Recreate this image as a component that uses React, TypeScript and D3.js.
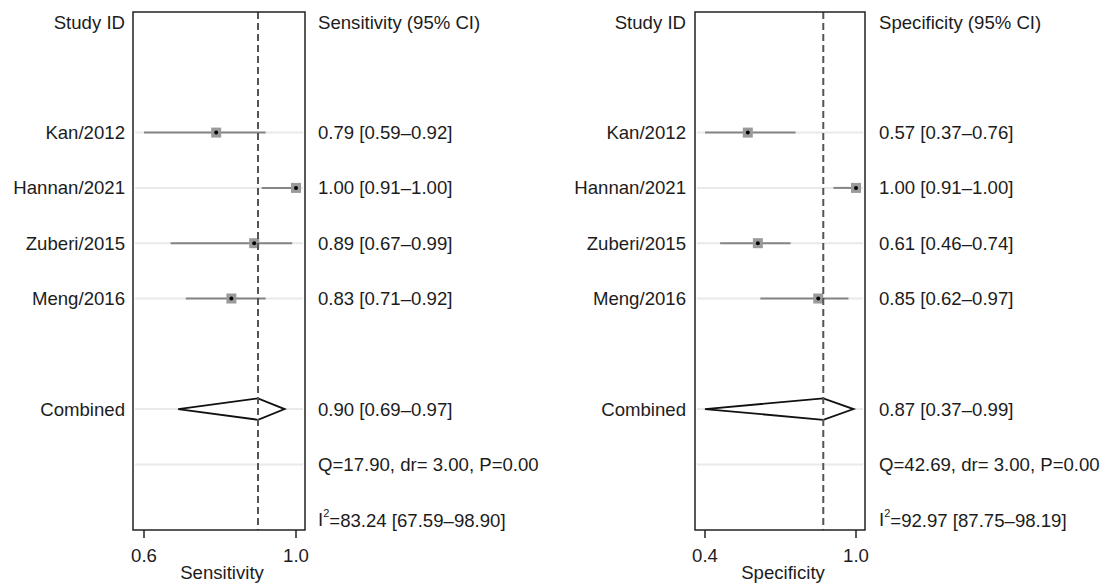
import React from "react";
import * as d3 from "d3";

const studies = ["Kan/2012", "Hannan/2021", "Zuberi/2015", "Meng/2016"];
const sensEst = [0.79, 1.0, 0.89, 0.83];
const sensLo = [0.59, 0.91, 0.67, 0.71];
const sensHi = [0.92, 1.0, 0.99, 0.92];
const specEst = [0.57, 1.0, 0.61, 0.85];
const specLo = [0.37, 0.91, 0.46, 0.62];
const specHi = [0.76, 1.0, 0.74, 0.97];
const sensPooled = [0.9, 0.69, 0.97];
const specPooled = [0.87, 0.37, 0.99];
const sensStats = { q: "Q=17.90, dr= 3.00, P=0.00", i2: "=83.24 [67.59\u201398.90]" };
const specStats = { q: "Q=42.69, dr= 3.00, P=0.00", i2: "=92.97 [87.75\u201398.19]" };
const sensTicks = [0.6, 1.0];
const specTicks = [0.4, 1.0];

const W = 1102;
const H = 583;
const FONT = "'Liberation Sans', Arial, Helvetica, sans-serif";
const FS = 18.6;
const TXT = "#1c1c1c";

const rowY = d3.scaleLinear().domain([0, 9]).range([22, 519.7]);
const fmt = d3.format(".2f");

type PanelProps = {
  labelX: number;
  box: [number, number];
  ticks: number[];
  tickRange: [number, number];
  textX: number;
  header: string;
  axisTitle: string;
  est: number[];
  lo: number[];
  hi: number[];
  pooled: number[];
  stats: { q: string; i2: string };
};

function Panel(p: PanelProps) {
  const x = d3.scaleLinear().domain(p.ticks).range(p.tickRange);
  const [dMin, dMax] = p.ticks;
  const clip = (v: number) => x(Math.max(dMin, Math.min(dMax, v)));
  const top = 12;
  const bottom = 530;
  const [bx0, bx1] = p.box;
  const gridRows = [2, 3, 4, 5, 7, 8];
  const cy = rowY(7);
  const [pe, pl, ph] = p.pooled;
  const diamond = [
    [clip(pl), cy],
    [x(pe), cy - 10.7],
    [clip(ph), cy],
    [x(pe), cy + 10.7],
  ];
  const line = d3.line();
  return (
    <g>
      {gridRows.map((r) => (
        <line key={r} x1={bx0 + 2} x2={bx1 - 2} y1={rowY(r)} y2={rowY(r)} stroke="#e9e9e9" strokeWidth={2} />
      ))}
      <text x={p.labelX} y={rowY(0)} textAnchor="end" dominantBaseline="central" fontSize={FS} fill={TXT}>Study ID</text>
      <text x={p.textX} y={rowY(0)} dominantBaseline="central" fontSize={FS} fill={TXT}>{p.header}</text>
      {studies.map((s, i) => {
        const y = rowY(i + 2);
        return (
          <g key={s}>
            <text x={p.labelX} y={y} textAnchor="end" dominantBaseline="central" fontSize={FS} fill={TXT}>{s}</text>
            <line x1={clip(p.lo[i])} x2={clip(p.hi[i])} y1={y} y2={y} stroke="#858585" strokeWidth={2} />
            <rect x={x(p.est[i]) - 5} y={y - 5} width={10} height={10} fill="#9a9a9a" />
            <circle cx={x(p.est[i])} cy={y} r={2} fill="#000" />
            <text x={p.textX} y={y} dominantBaseline="central" fontSize={FS} fill={TXT}>
              {`${fmt(p.est[i])} [${fmt(p.lo[i])}\u2013${fmt(p.hi[i])}]`}
            </text>
          </g>
        );
      })}
      <text x={p.labelX} y={cy} textAnchor="end" dominantBaseline="central" fontSize={FS} fill={TXT}>Combined</text>
      <path d={line(diamond as [number, number][])! + "Z"} fill="white" stroke="#111" strokeWidth={1.8} strokeLinejoin="miter" />
      <text x={p.textX} y={cy} dominantBaseline="central" fontSize={FS} fill={TXT}>
        {`${fmt(pe)} [${fmt(pl)}\u2013${fmt(ph)}]`}
      </text>
      <text x={p.textX} y={rowY(8)} dominantBaseline="central" fontSize={FS} fill={TXT}>{p.stats.q}</text>
      <text x={p.textX} y={rowY(9)} dominantBaseline="central" fontSize={FS} fill={TXT}>
        I<tspan fontSize={11} dy={-7}>2</tspan><tspan dy={7}>{p.stats.i2}</tspan>
      </text>
      <line x1={x(pe)} x2={x(pe)} y1={top} y2={bottom} stroke="#555" strokeWidth={2} strokeDasharray="7,4" />
      <rect x={bx0} y={top} width={bx1 - bx0} height={bottom - top} fill="none" stroke="#222" strokeWidth={1.5} />
      {p.ticks.map((t) => (
        <g key={t}>
          <line x1={x(t)} x2={x(t)} y1={bottom} y2={bottom + 8} stroke="#222" strokeWidth={1.5} />
          <text x={x(t)} y={bottom + 25} textAnchor="middle" dominantBaseline="central" fontSize={FS} fill={TXT}>{d3.format(".1f")(t)}</text>
        </g>
      ))}
      <text x={(bx0 + bx1) / 2 + 3} y={572} textAnchor="middle" dominantBaseline="central" fontSize={FS} fill={TXT}>{p.axisTitle}</text>
    </g>
  );
}

export default function App() {
  return (
    <svg width={W} height={H} style={{ position: "absolute", left: 0, top: 0, background: "#fff" }} fontFamily={FONT}>
      <rect width={W} height={H} fill="#fff" />
      <Panel
        labelX={125}
        box={[133, 305]}
        ticks={sensTicks}
        tickRange={[144, 296]}
        textX={318}
        header="Sensitivity (95% CI)"
        axisTitle="Sensitivity"
        est={sensEst}
        lo={sensLo}
        hi={sensHi}
        pooled={sensPooled}
        stats={sensStats}
      />
      <Panel
        labelX={686}
        box={[695, 865]}
        ticks={specTicks}
        tickRange={[705, 856]}
        textX={879}
        header="Specificity (95% CI)"
        axisTitle="Specificity"
        est={specEst}
        lo={specLo}
        hi={specHi}
        pooled={specPooled}
        stats={specStats}
      />
    </svg>
  );
}
